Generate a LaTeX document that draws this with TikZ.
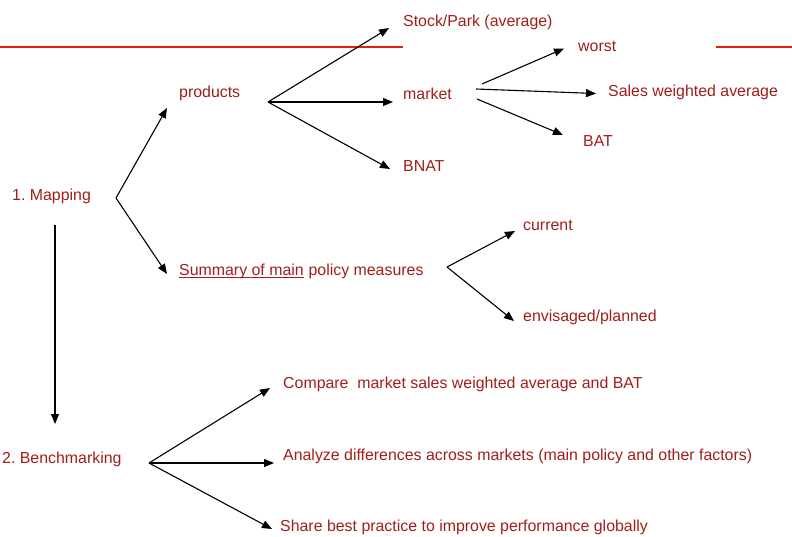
\documentclass[tikz,border=0pt]{standalone}
\usepackage{fontspec}
\setmainfont{Liberation Sans}
\usetikzlibrary{arrows.meta}
\frenchspacing
\definecolor{labelred}{RGB}{160,30,25}
\definecolor{rulered}{RGB}{228,32,12}
\tikzset{
  lbl/.style={anchor=base west, inner sep=0pt, text=labelred,
              font=\fontsize{15.9}{18}\selectfont},
  arr/.style={draw=black, line width=1.1pt,
              -{Triangle[length=10pt,width=8pt]}},
  rule/.style={draw=rulered, line width=2pt}
}
\begin{document}
\begin{tikzpicture}[x=1pt,y=-1pt]
\useasboundingbox (0,0) rectangle (792,536);

% header rule, interrupted by the labels
\draw[rule] (0,46.5) -- (403,46.5);
\draw[rule] (716,46.5) -- (792,46.5);

% labels
\node[lbl] (stock)   at (403,26)    {Stock/Park (average)};
\node[lbl] (products) at (179,97)   {products};
\node[lbl] (market)  at (403,99)    {market};
\node[lbl] (bnat)    at (403,171.5) {BNAT};
\node[lbl] (worst)   at (578,51)    {worst};
\node[lbl] (swa)     at (608,96.5)  {Sales weighted average};
\node[lbl] (bat)     at (583,146.5) {BAT};
\node[lbl] (mapping) at (12,200)    {1. Mapping};
\node[lbl] (sumA)    at (179,275)   {Summary of main};
\node[lbl, anchor=base west] (sumB) at (sumA.base east) {\ policy measures};
\node[lbl] (current) at (523,230)   {current};
\node[lbl] (planned) at (523,321.5) {envisaged/planned};
\node[lbl] (bench)   at (2,463)     {2. Benchmarking};
\node[lbl] (compare) at (283,388)   {Compare\ \ market sales weighted average and BAT};
\node[lbl] (analyze) at (283,460)   {Analyze differences across markets (main policy and other factors)};
\node[lbl] (share)   at (280,531.5) {Share best practice to improve performance globally};

% underline of the first words
\draw[labelred, line width=1.5pt] ([yshift=-2.6pt]sumA.base west) -- ([yshift=-2.6pt]sumA.base east);

% fork points and arrow ends
\coordinate (mapfork)  at (116,198);
\coordinate (prodfork) at (268,102);
\coordinate (sumfork)  at (447,267);
\coordinate (benchfork) at (149,463);
\coordinate (prodin)   at (167,108);
\coordinate (sumin)    at (167,274);
\coordinate (stockin)  at (389,28);
\coordinate (marketin) at (393,102);
\coordinate (bnatin)   at (390,169);
\coordinate (mktA)     at (482,84);
\coordinate (mktB)     at (476,89);
\coordinate (mktC)     at (477,99);
\coordinate (worstin)  at (564,48.5);
\coordinate (swain)    at (596,93.5);
\coordinate (batin)    at (563,135);
\coordinate (currin)   at (515,231);
\coordinate (planin)   at (514,321);
\coordinate (downtop)  at (55,225);
\coordinate (downend)  at (55,424);
\coordinate (compin)   at (270,388);
\coordinate (anain)    at (274,463);
\coordinate (sharein)  at (272,529);

% connectors
\draw[arr] (mapfork) -- (prodin);
\draw[arr] (mapfork) -- (sumin);
\draw[arr] (prodfork) -- (stockin);
\draw[arr] (prodfork) -- (marketin);
\draw[arr] (prodfork) -- (bnatin);
\draw[arr] (mktA) -- (worstin);
\draw[arr] (mktB) -- (swain);
\draw[arr] (mktC) -- (batin);
\draw[arr] (sumfork) -- (currin);
\draw[arr] (sumfork) -- (planin);
\draw[arr] (downtop) -- (downend);
\draw[arr] (benchfork) -- (compin);
\draw[arr] (benchfork) -- (anain);
\draw[arr] (benchfork) -- (sharein);
\end{tikzpicture}
\end{document}
